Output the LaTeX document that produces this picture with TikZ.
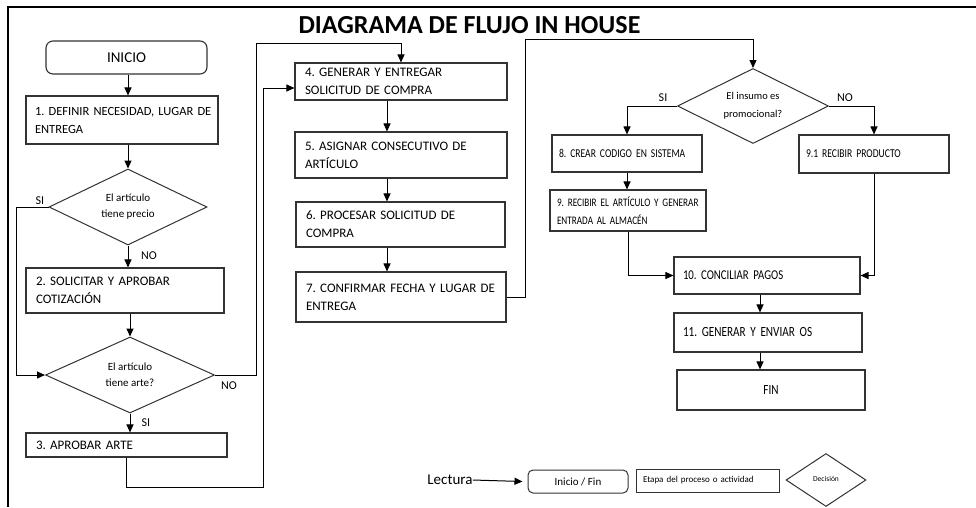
\documentclass[tikz,border=0pt]{standalone}
\usepackage{fontspec}
\setmainfont{Carlito}
\newfontfamily\condfont{Carlito}[FakeStretch=0.8]
\usetikzlibrary{arrows.meta,shapes.geometric,calc}
\newcommand\fsz[2]{\fontsize{#1}{#2}\selectfont\frenchspacing\hyphenpenalty=10000\exhyphenpenalty=10000 }
\begin{document}
\begin{tikzpicture}[x=1pt,y=-1pt,
  arr/.style={draw=black, line width=1pt, -{Triangle[length=8pt,width=7pt]}},
  pbox/.style={draw=black!80, line width=1.1pt, inner xsep=10pt, inner ysep=0pt, align=left, font=\fsz{13}{18}},
  rbox/.style={pbox, inner xsep=7pt, font=\condfont\fsz{12}{18}},
  term/.style={draw=black!80, line width=1.1pt, rounded corners=7pt, inner sep=0pt, align=center},
  dec/.style={diamond, aspect=2, draw=black!80, line width=1pt, inner sep=0pt, align=center, font=\fsz{11}{16}},
  lbl/.style={inner sep=0pt, font=\fsz{12}{12}}
]
\useasboundingbox (0,0) rectangle (976,507);
\fill[white] (0,0) rectangle (976,507);
% frame
\coordinate (fr1) at (976,7);
\coordinate (fr2) at (8,7);
\coordinate (fr3) at (8,507);
\draw[line width=1.3pt] (fr1) -- (fr2) -- (fr3);

% title
\node[inner sep=0pt, font=\bfseries\fsz{26}{26}] (title) at (469.5,25) {DIAGRAMA DE FLUJO IN HOUSE};

% left column
\node[term, minimum width=161pt, minimum height=33pt, font=\fsz{15}{15}] (inicio) at (126.5,57.5) {INICIO};
\node[pbox, inner xsep=9pt, text width=174pt, minimum height=48pt, font=\fsz{12.5}{18}] (b1) at (122,120) {1.~DEFINIR~NECESIDAD,~LUGAR~DE\\ENTREGA};
\node[dec, minimum width=158pt, minimum height=76pt] (d1) at (128,207) {El artículo\\tiene precio};
\node[pbox, text width=178pt, minimum height=45pt] (b2) at (125,290.5) {2.~SOLICITAR~Y~APROBAR\\COTIZACIÓN};
\node[dec, minimum width=169pt, minimum height=76pt] (d2) at (130,375) {El artículo\\tiene arte?};
\node[pbox, text width=181pt, minimum height=24pt] (b3) at (126.5,445) {3.~APROBAR~ARTE};

% middle column
\node[pbox, text width=192pt, minimum height=37pt] (b4) at (401,81.5) {4.~GENERAR~Y~ENTREGAR\\SOLICITUD~DE~COMPRA};
\node[pbox, text width=192pt, minimum height=46pt] (b5) at (401,155) {5.~ASIGNAR~CONSECUTIVO~DE\\ARTÍCULO};
\node[pbox, text width=189pt, minimum height=45pt] (b6) at (400.5,224.5) {6.~PROCESAR~SOLICITUD~DE\\COMPRA};
\node[pbox, text width=190pt, minimum height=50pt] (b7) at (401,297) {7.~CONFIRMAR~FECHA~Y~LUGAR~DE\\ENTREGA};

% right part
\node[dec, minimum width=151pt, minimum height=75pt, font=\fsz{10.5}{18}] (d3) at (753,106) {El insumo es\\promocional?};
\node[rbox, text width=136pt, minimum height=37pt] (b8) at (627,153.5) {8.~CREAR~CODIGO~EN~SISTEMA};
\node[rbox, text width=142pt, minimum height=41pt, font=\condfont\fsz{11.5}{18}] (b9) at (628,210.5) {9.~RECIBIR~EL~ARTÍCULO~Y~GENERAR\\ENTRADA~AL~ALMACÉN};
\node[rbox, text width=136pt, minimum height=38pt] (b91) at (874,154) {9.1~RECIBIR~PRODUCTO};
\node[rbox, inner xsep=9pt, text width=168pt, minimum height=37pt, font=\condfont\fsz{13.5}{18}] (b10) at (767,275.5) {10.~CONCILIAR~PAGOS};
\node[rbox, inner xsep=9pt, text width=170pt, minimum height=39pt, font=\condfont\fsz{14}{18}] (b11) at (768,332.5) {11.~GENERAR~Y~ENVIAR~OS};
\node[rbox, inner xsep=10pt, text width=168pt, minimum height=40pt, align=center, font=\condfont\fsz{14}{18}] (fin) at (771,390) {FIN};

% helper coordinates
\coordinate (l1) at (16,207);
\coordinate (n2) at (256,43);
\coordinate (r3) at (263,487);
\coordinate (t7) at (525,39);
\coordinate (ax) at (387,0);
\coordinate (ay) at (760,0);

% connectors left
\draw[arr] (inicio.south -| d1.north) -- (b1.north -| d1.north);
\draw[arr] (b1.south -| d1.north) -- (d1.north);
\draw[arr] (d1.south) -- (b2.north -| d1.south);
\draw[arr] (d1.west) -- (l1) |- (d2.west);
\draw[arr] (b2.south -| d2.north) -- (d2.north);
\draw[arr] (d2.south) -- (b3.north -| d2.south);
\draw[arr] (d2.east) -| (n2) -| (b4.north);
\draw[arr] (b3.south) |- (r3) |- ($(b4.west)+(0,6.5)$);

% middle
\draw[arr] (b4.south -| ax) -- (b5.north -| ax);
\draw[arr] (b5.south -| ax) -- (b6.north -| ax);
\draw[arr] (b6.south -| ax) -- (b7.north -| ax);
\draw[arr] (b7.east) -| (t7) -| (d3.north);

% right
\draw[arr] (d3.west) -| (b8.north);
\draw[arr] (d3.east) -| (b91.north);
\draw[arr] (b8.south) -- (b9.north -| b8.south);
\draw[arr] (b9.south) |- (b10.west);
\draw[arr] (b91.south) |- (b10.east);
\draw[arr] (b10.south -| ay) -- (b11.north -| ay);
\draw[arr] (b11.south -| ay) -- (fin.north -| ay);

% labels
\node[lbl] (siA) at (40,201) {SI};
\node[lbl] (noA) at (149,256) {NO};
\node[lbl] (noB) at (229,386) {NO};
\node[lbl] (siB) at (146,423) {SI};
\node[lbl] (siC) at (663,98) {SI};
\node[lbl] (noC) at (845,98) {NO};

% legend
\node[inner sep=0pt, font=\fsz{15}{15}] (lect) at (450,480) {Lectura};
\node[term, rounded corners=5pt, line width=1pt, minimum width=100pt, minimum height=23pt, font=\fsz{11}{11}] (lg1) at (578,481.5) {Inicio / Fin};
\node[pbox, line width=1pt, inner xsep=7pt, text width=129pt, minimum height=23pt, font=\fsz{9}{9}] (lg2) at (707.5,480.5) {Etapa del proceso o actividad};
\node[dec, minimum width=80pt, minimum height=53pt, font=\fsz{7.5}{8}] (lg3) at (826,480) {\raisebox{3pt}{Decisión}};
\draw[arr] (lect.east) -- ([xshift=-5pt]lg1.west);
\end{tikzpicture}
\end{document}
